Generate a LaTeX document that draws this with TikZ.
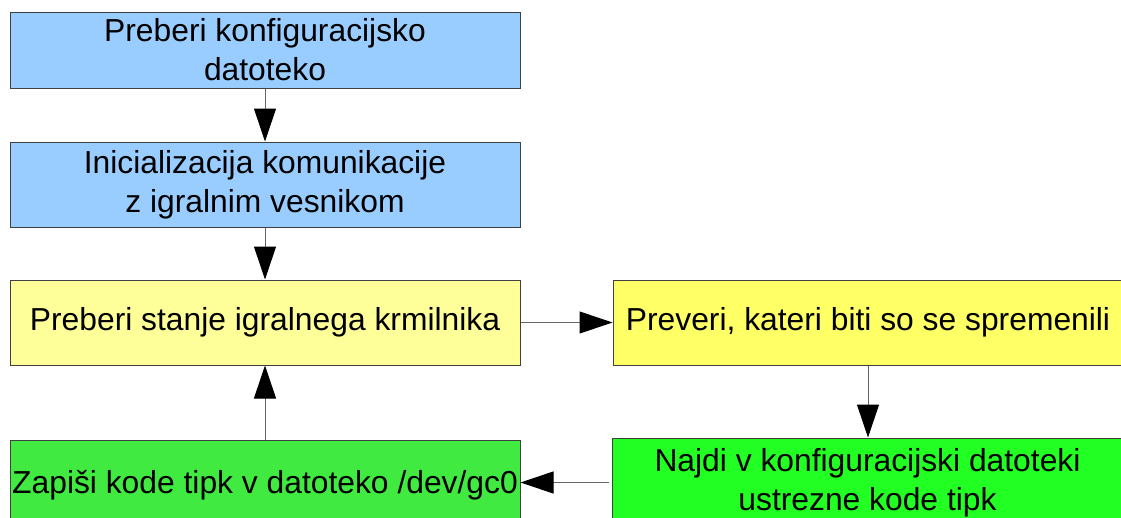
\documentclass[tikz,border=0pt]{standalone}
\usepackage{fontspec}
\setmainfont{Liberation Sans}
\usetikzlibrary{arrows.meta}
\definecolor{cblue}{HTML}{99CCFF}
\definecolor{clyellow}{HTML}{FFFF99}
\definecolor{cyellow}{HTML}{FFFF66}
\definecolor{cgreenA}{RGB}{64,234,64}
\definecolor{cgreenB}{RGB}{34,255,34}
\begin{document}
\begin{tikzpicture}[x=1pt,y=-1pt,
  box/.style={draw=black!75, line width=1pt, inner sep=0pt, align=center,
    font=\fontsize{31.8}{39}\selectfont, minimum width=510pt},
  arr/.style={draw=black!60, line width=1pt,
    -{Triangle[length=33pt,width=22pt,color=black]}}]
\useasboundingbox (0,0) rectangle (1121,517);
\clip (0,0) rectangle (1121,517);
\node[box, fill=cblue, minimum height=76pt] (b1) at (265,50) {Preberi konfiguracijsko\\datoteko};
\node[box, fill=cblue, minimum height=85pt] (b2) at (265,184.5) {Inicializacija komunikacije\\z igralnim vesnikom};
\node[box, fill=clyellow, minimum height=85pt] (b3) at (265,322.5) {Preberi stanje igralnega krmilnika};
\node[box, fill=cyellow, minimum height=85pt] (b4) at (868,322.5) {Preveri, kateri biti so se spremenili};
\node[box, fill=cgreenA, minimum height=90pt] (g1) at (265,485) {Zapiši kode tipk v datoteko /dev/gc0};
\node[box, fill=cgreenB, minimum height=89pt, minimum width=511pt] (g2) at (867.5,482.5) {Najdi v konfiguracijski datoteki\\ustrezne kode tipk};
\draw[arr] (b1.south) -- (b2.north);
\draw[arr] (b2.south) -- (b3.north);
\draw[arr] (b3.east) -- (b4.west);
\draw[arr] (b4.south) -- (b4.south |- g2.north);
\draw[arr, shorten <=3pt] (g2.west) -- (g2.west -| g1.east);
\draw[arr] (g1.north) -- (b3.south);
\end{tikzpicture}
\end{document}
